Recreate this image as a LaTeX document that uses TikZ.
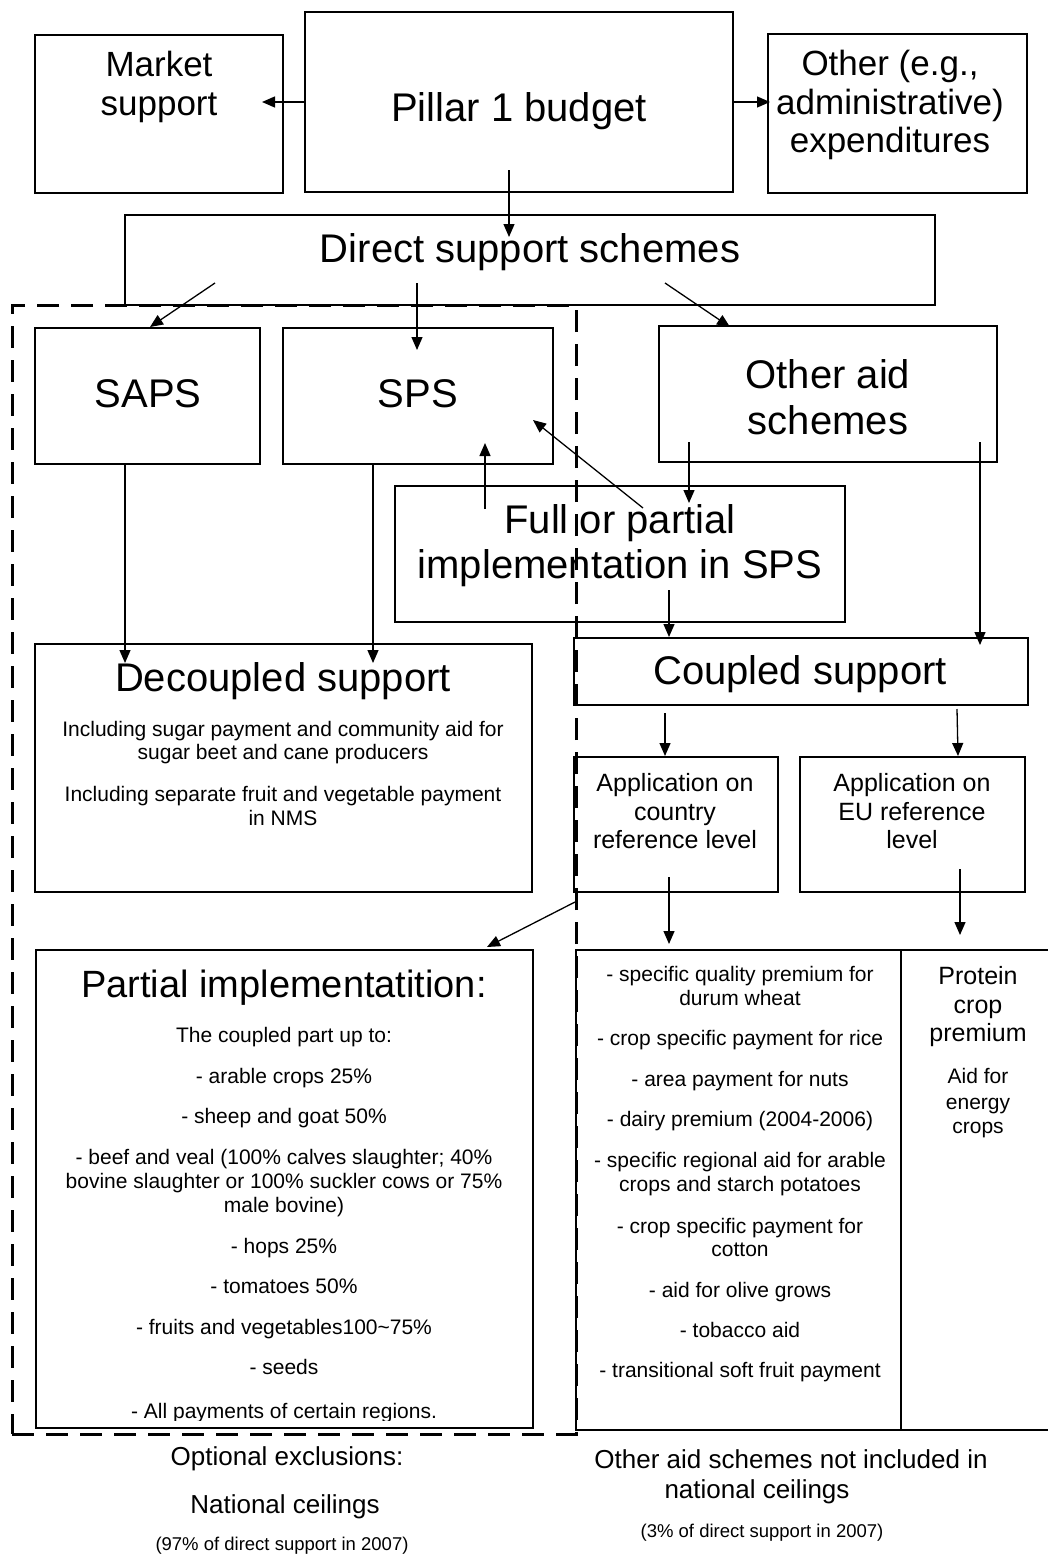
\documentclass[tikz,border=0pt]{standalone}
\usepackage{fontspec}
\setmainfont{Liberation Sans}
\usetikzlibrary{arrows.meta,fit}
\newcommand{\mybox}[5]{\node[box, fit={(#2,#3) (#4,#5)}] (#1) {};}
\newcommand{\mytext}[5]{\node[lbl,#4] (#1) at (#2,#3) {#5};}
\begin{document}
\begin{tikzpicture}[x=1pt,y=-1pt,
  box/.style={draw, line width=1.5pt, inner sep=0pt, outer sep=0pt},
  lbl/.style={anchor=base, inner sep=0pt, outer sep=0pt},
  conn/.style={line width=1.3pt, -{Triangle[length=13pt,width=11pt]}},
  excl/.style={draw, line width=3pt, dash pattern=on 22pt off 12pt, inner sep=0pt, outer sep=0pt},
  f40/.style={font=\fontsize{40pt}{48pt}\selectfont},
  f38/.style={font=\fontsize{38pt}{46pt}\selectfont},
  f35/.style={font=\fontsize{35pt}{42pt}\selectfont},
  f26/.style={font=\fontsize{26pt}{31pt}\selectfont},
  f25/.style={font=\fontsize{25pt}{30pt}\selectfont},
  f21/.style={font=\fontsize{21pt}{25pt}\selectfont},
  f18/.style={font=\fontsize{18.5pt}{22pt}\selectfont}]
\fill[white] (0,0) rectangle (1048,1555);
\useasboundingbox (0,0) rectangle (1048,1555);

% boxes
\mybox{market}{35}{35}{283}{193}
\mybox{pillar}{305}{12}{733}{192}
\mybox{other}{768}{34}{1027}{193}
\mybox{direct}{125}{215}{935}{305}
\mybox{saps}{35}{328}{260}{464}
\mybox{sps}{283}{328}{553}{464}
\mybox{otheraid}{659}{326}{997}{462}
\mybox{full}{395}{486}{845}{622}
\mybox{decoupled}{35}{644}{532}{892}
\mybox{coupled}{574}{638}{1028}{705}
\mybox{appC}{574}{757}{778}{892}
\mybox{appEU}{800}{757}{1025}{892}
\mybox{partial}{36}{950}{533}{1428}
\mybox{list}{576}{950}{1062}{1430}
\mybox{protein}{901}{950}{1062}{1430}
\node[excl, fit={(12,305) (576,1434)}] (natbox) {};

% texts
\mytext{tMa}{159}{77}{f35}{Market}
\mytext{tMb}{159}{115}{f35}{support}
\mytext{tP}{519}{121}{f40}{Pillar 1 budget}
\mytext{tOa}{890}{76}{f35}{Other (e.g.,}
\mytext{tOb}{890}{114}{f35}{administrative)}
\mytext{tOc}{890}{152}{f35}{expenditures}
\mytext{tD}{530}{262}{f40}{Direct support schemes}
\mytext{tSAPS}{148}{407}{f40}{SAPS}
\mytext{tSPS}{418}{407}{f40}{SPS}
\mytext{tOAa}{828}{388}{f40}{Other aid}
\mytext{tOAb}{828}{434}{f40}{schemes}
\mytext{tFa}{620}{533}{f40}{Full or partial}
\mytext{tFb}{620}{578}{f40}{implementation in SPS}
\mytext{tDec}{283}{691}{f40}{Decoupled support}
\mytext{tDa}{283}{736}{f21}{Including sugar payment and community aid for}
\mytext{tDb}{283}{759}{f21}{sugar beet and cane producers}
\mytext{tDc}{283}{801}{f21}{Including separate fruit and vegetable payment}
\mytext{tDd}{283}{825}{f21}{in NMS}
\mytext{tCoup}{800}{684}{f40}{Coupled support}
\mytext{tACa}{675}{791}{f25}{Application on}
\mytext{tACb}{675}{820}{f25}{country}
\mytext{tACc}{675}{848}{f25}{reference level}
\mytext{tAEa}{912}{791}{f25}{Application on}
\mytext{tAEb}{912}{820}{f25}{EU reference}
\mytext{tAEc}{912}{848}{f25}{level}
\mytext{tPart}{284}{997}{f38}{Partial implementatition:}
\mytext{pa}{284}{1042}{f21}{The coupled part up to:}
\mytext{pb}{284}{1083}{f21}{- arable crops 25\%}
\mytext{pc}{284}{1123}{f21}{- sheep and goat 50\%}
\mytext{pd}{284}{1164}{f21}{- beef and veal (100\% calves slaughter; 40\%}
\mytext{pe}{284}{1188}{f21}{bovine slaughter or 100\% suckler cows or 75\%}
\mytext{pf}{284}{1212}{f21}{male bovine)}
\mytext{pg}{284}{1253}{f21}{- hops 25\%}
\mytext{ph}{284}{1293}{f21}{- tomatoes 50\%}
\mytext{pi}{284}{1334}{f21}{- fruits and vegetables100\textasciitilde 75\%}
\mytext{pj}{284}{1374}{f21}{- seeds}
\begin{scope}
\clip (36,1390) rectangle (533,1420);
\mytext{pk}{284}{1418}{f21}{- All payments of certain regions.}
\end{scope}
\mytext{la}{740}{981}{f21}{- specific quality premium for}
\mytext{lb}{740}{1005}{f21}{durum wheat}
\mytext{lc}{740}{1045}{f21}{- crop specific payment for rice}
\mytext{ld}{740}{1086}{f21}{- area payment for nuts}
\mytext{le}{740}{1126}{f21}{- dairy premium (2004-2006)}
\mytext{lf}{740}{1167}{f21}{- specific regional aid for arable}
\mytext{lg}{740}{1191}{f21}{crops and starch potatoes}
\mytext{lh}{740}{1233}{f21}{- crop specific payment for}
\mytext{li}{740}{1256}{f21}{cotton}
\mytext{lj}{740}{1297}{f21}{- aid for olive grows}
\mytext{lk}{740}{1337}{f21}{- tobacco aid}
\mytext{ll}{740}{1377}{f21}{- transitional soft fruit payment}
\mytext{ra}{978}{984}{f25}{Protein}
\mytext{rb}{978}{1013}{f25}{crop}
\mytext{rc}{978}{1041}{f25}{premium}
\mytext{rd}{978}{1083}{f21}{Aid for}
\mytext{re}{978}{1109}{f21}{energy}
\mytext{rf}{978}{1133}{f21}{crops}
\mytext{ba}{287}{1465}{f26}{Optional exclusions:}
\mytext{bb}{285}{1513}{f26}{National ceilings}
\mytext{bc}{282}{1550}{f18}{(97\% of direct support in 2007)}
\mytext{bd}{791}{1468}{f26}{Other aid schemes not included in}
\mytext{be}{757}{1498}{f26}{national ceilings}
\mytext{bf}{762}{1537}{f18}{(3\% of direct support in 2007)}

% connectors
\draw[conn] (pillar.west) -- ([shift={(-21,-12)}]market.east);
\draw[conn] (pillar.east) -- ([shift={(2,-11.5)}]other.west);
\draw[conn] ([shift={(-10,-22)}]pillar.south) -- ([shift={(-21,22)}]direct.north);
\draw[conn] ([shift={(-315,-22)}]direct.south) -- ([shift={(2.5,-1)}]saps.north);
\draw[conn] ([shift={(-113,-22)}]direct.south) -- ([shift={(-1,22)}]sps.north);
\draw[conn] ([shift={(135,-22)}]direct.south) -- ([shift={(-98,1)}]otheraid.north);
\draw[conn] ([shift={(-135,23)}]full.north) -- ([shift={(67,-21)}]sps.south);
\draw[conn] ([shift={(23,22)}]full.north) -- ([shift={(115,-44)}]sps.south);
\draw[conn] ([shift={(-139,-20)}]otheraid.south) -- ([shift={(69,17)}]full.north);
\draw[conn] ([shift={(152,-20)}]otheraid.south) -- ([shift={(179,7)}]coupled.north);
\draw[conn] ([shift={(49,-32)}]full.south) -- ([shift={(-132,-1)}]coupled.north);
\draw[conn] ([shift={(-22.5,0)}]saps.south) -- ([shift={(-158.5,19)}]decoupled.north);
\draw[conn] ([shift={(-45,0)}]sps.south) -- ([shift={(89.5,19)}]decoupled.north);
\draw[conn] ([shift={(-136,8)}]coupled.south) -- ([shift={(-11,-1)}]appC.north);
\draw[conn] ([shift={(156,4)}]coupled.south) -- ([shift={(45.5,-1)}]appEU.north);
\draw[conn] ([shift={(-7,-15)}]appC.south) -- ([shift={(-150,-6)}]list.north);
\draw[conn] ([shift={(47.5,-23)}]appEU.south) -- ([shift={(-21.5,-15)}]protein.north);
\draw[conn] ([shift={(1,10)}]appC.south west) -- ([shift={(-46,-3)}]partial.north east);
\end{tikzpicture}
\end{document}
